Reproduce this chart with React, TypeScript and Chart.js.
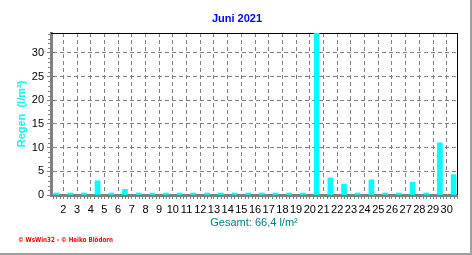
import React, { useEffect, useRef } from 'react';
import { Chart, registerables } from 'chart.js';

Chart.register(...registerables);

// ---- data ----
const days: number[] = [1, 2, 3, 4, 5, 6, 7, 8, 9, 10, 11, 12, 13, 14, 15, 16, 17, 18, 19, 20, 21, 22, 23, 24, 25, 26, 27, 28, 29, 30];
const rain: number[] = [0, 0, 0, 3.0, 0.3, 1.2, 0, 0, 0, 0, 0, 0.2, 0, 0, 0, 0, 0, 0, 0, 34.2, 3.6, 2.3, 0, 3.2, 0, 0, 2.7, 0.4, 11.0, 4.3];
const yTickValues: number[] = [0, 5, 10, 15, 20, 25, 30];
const titleText = 'Juni 2021';
const yTitleText = 'Regen  (l/m²)';
const totalText = 'Gesamt: 66,4 l/m²';
const footerText = '© WsWin32 - © Heiko Blödorn';

const FONT = '"Liberation Sans", Arial, sans-serif';

const decor = {
  id: 'decor',
  beforeDraw(chart: any) {
    const { ctx, width, height } = chart;
    ctx.save();
    ctx.fillStyle = '#ffffff';
    ctx.fillRect(0, 0, width, height);
    ctx.restore();
  },
  beforeDatasetsDraw(chart: any) {
    const { ctx, chartArea } = chart;
    const { left, right, top, bottom } = chartArea;
    ctx.save();
    ctx.fillStyle = '#000000';
    ctx.fillRect(left, top, right - left + 1, 1);
    ctx.fillRect(right, top, 1, bottom - top);
    ctx.restore();
  },
  afterDraw(chart: any) {
    const { ctx, chartArea, scales, width, height } = chart;
    const { left, bottom } = chartArea;
    const xs = scales.x;
    const ys = scales.y;
    ctx.save();
    // minor ticks
    ctx.strokeStyle = '#808080';
    ctx.lineWidth = 1;
    ctx.beginPath();
    for (let v = 1; v <= ys.max; v += 1) {
      if (v % 5 === 0) continue;
      const y = Math.round(ys.getPixelForValue(v)) + 0.5;
      ctx.moveTo(left - 3, y);
      ctx.lineTo(left - 1, y);
    }
    for (let v = Math.ceil(xs.min * 4) / 4; v <= xs.max; v += 0.25) {
      if (Math.abs(v - Math.round(v)) < 1e-6) continue;
      const x = Math.round(xs.getPixelForValue(v)) + 0.5;
      ctx.moveTo(x, bottom + 1);
      ctx.lineTo(x, bottom + 4);
    }
    ctx.stroke();
    // title
    ctx.fillStyle = '#0000ff';
    ctx.font = 'bold 11px ' + FONT;
    ctx.textAlign = 'center';
    ctx.textBaseline = 'middle';
    ctx.fillText(titleText, 237, 19);
    // footer
    ctx.fillStyle = '#ff0000';
    ctx.font = 'bold 7px "DejaVu Sans", sans-serif';
    ctx.textAlign = 'left';
    ctx.fillText(footerText, 18, 240.5, 95);
    // outer frame
    ctx.fillStyle = '#a0a0a0';
    ctx.fillRect(width - 2, 0, 2, height);
    ctx.fillRect(0, height - 2, width, 2);
    ctx.restore();
  },
};

export default function App() {
  const ref = useRef<HTMLCanvasElement | null>(null);
  useEffect(() => {
    if (!ref.current) return;
    const chart = new Chart(ref.current, {
      type: 'bar',
      data: {
        datasets: [
          {
            data: days.map((d, i) => ({ x: d + 0.5, y: rain[i] })),
            backgroundColor: '#00ffff',
            borderWidth: 0,
            barThickness: 5,
            minBarLength: 2,
          } as any,
        ],
      },
      options: {
        responsive: false,
        animation: false,
        events: [],
        layout: { padding: { top: 33, right: 15, left: 0, bottom: 0 } },
        plugins: {
          legend: { display: false },
          tooltip: { enabled: false },
          title: { display: false },
        },
        scales: {
          x: {
            type: 'linear',
            offset: false,
            min: 1.1,
            max: 30.75,
            afterFit: (s: any) => { s.height = 60; },
            ticks: {
              stepSize: 1,
              includeBounds: false,
              autoSkip: false,
              maxRotation: 0,
              padding: 4,
              color: '#000000',
              font: { family: FONT, size: 11 },
              callback: (v: any) => String(v),
            },
            grid: {
              offset: false,
              color: '#808080',
              lineWidth: 1,
              tickColor: '#808080',
              tickLength: 4,
              tickBorderDash: [],
            },
            border: { display: true, color: '#808080', width: 3, dash: [4, 3] },
            title: {
              display: true,
              text: totalText,
              color: '#008080',
              font: { family: FONT, size: 11 },
              padding: { top: 0, bottom: 25 },
            },
          },
          y: {
            type: 'linear',
            min: 0,
            max: 34.2,
            afterFit: (s: any) => { s.width = 51; },
            afterBuildTicks: (s: any) => { s.ticks = yTickValues.map((v) => ({ value: v })); },
            ticks: {
              includeBounds: false,
              padding: 3,
              color: '#000000',
              font: { family: FONT, size: 11 },
            },
            grid: {
              color: '#808080',
              lineWidth: 1,
              tickColor: '#808080',
              tickLength: 4,
              tickBorderDash: [],
            },
            border: { display: true, color: '#808080', width: 3, dash: [4, 3] },
            title: {
              display: true,
              text: yTitleText,
              color: '#00ffff',
              font: { family: FONT, size: 11, weight: 'bold' },
              padding: { top: 15, bottom: 0 },
            },
          },
        },
      },
      plugins: [decor],
    } as any);
    return () => chart.destroy();
  }, []);
  return (
    <div style={{ position: 'absolute', left: 0, top: 0, width: 472, height: 255, background: '#fff' }}>
      <canvas ref={ref} width={472} height={255} style={{ display: 'block' }} />
    </div>
  );
}
